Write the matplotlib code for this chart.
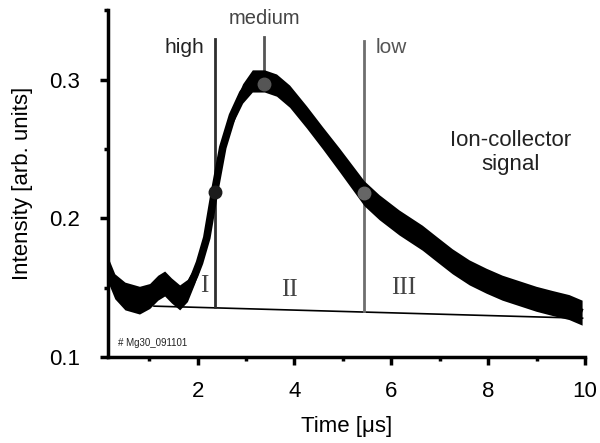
import numpy as np
import matplotlib.pyplot as plt
from matplotlib.ticker import MultipleLocator

# ion-collector trace (time in us, intensity in arb. units)
time = [0.15, 0.29, 0.50, 0.80, 1.01, 1.18, 1.32, 1.46, 1.63, 1.79, 1.94, 2.04,
        2.19, 2.35, 2.52, 2.72, 2.93, 3.13, 3.38, 3.63, 3.90, 4.25, 4.58, 4.93,
        5.44, 5.75, 6.16, 6.64, 6.93, 7.26, 7.61, 7.96, 8.29, 8.64, 8.99, 9.32,
        9.67, 9.94]
intensity = [0.163, 0.151, 0.144, 0.141, 0.144, 0.150, 0.153, 0.148, 0.143, 0.148,
             0.159, 0.168, 0.186, 0.219, 0.251, 0.274, 0.290, 0.299, 0.299, 0.296,
             0.288, 0.273, 0.258, 0.242, 0.218, 0.208, 0.197, 0.186, 0.178, 0.169,
             0.161, 0.155, 0.150, 0.146, 0.142, 0.139, 0.136, 0.132]
# half-width of the noise band
spread = [0.009, 0.009, 0.010, 0.010, 0.009, 0.009, 0.009, 0.009, 0.009, 0.008,
          0.006, 0.005, 0.004, 0.004, 0.005, 0.006, 0.007, 0.008, 0.008, 0.008,
          0.008, 0.008, 0.008, 0.0085, 0.009, 0.009, 0.009, 0.009, 0.009, 0.009,
          0.009, 0.009, 0.009, 0.009, 0.009, 0.009, 0.009, 0.009]

# baseline under the signal
base_t = [1.10, 9.95]
base_y = [0.1367, 0.1280]

# intensity regions: high / medium / low
marker_t = [2.35, 3.38, 5.44]
marker_y = [0.219, 0.297, 0.218]
marker_names = ["high", "medium", "low"]
line_top = [0.3295, 0.331, 0.328]
line_bottom = [0.136, 0.297, 0.133]
region_t = [2.14, 3.90, 6.25]
region_y = [0.151, 0.148, 0.150]
region_names = ["I", "II", "III"]

plt.rcParams['font.family'] = ['Liberation Sans', 'DejaVu Sans']

fig = plt.figure(figsize=(6, 4.43), dpi=100)
ax = fig.add_axes([0.18, 0.194, 0.795, 0.783])

# the trace: thick line plus vertical noise band
ax.fill_between(time, np.subtract(intensity, spread), np.add(intensity, spread),
                color='black', lw=0, zorder=3)
ax.plot(time, intensity, color='black', lw=5.5, zorder=3, solid_capstyle='butt')

ax.plot(base_t, base_y, color='black', lw=1.2, zorder=2)

line_cols = ['#2e2e2e', '#555555', '#6e6e6e']
dot_cols = ['#1c1c1c', '#555555', '#666666']
for i in range(3):
    ax.plot([marker_t[i], marker_t[i]], [line_bottom[i], line_top[i]],
            color=line_cols[i], lw=2, zorder=2)
    ax.plot(marker_t[i], marker_y[i], 'o', color=dot_cols[i], ms=9, zorder=4)

ax.text(2.14, 0.323, "high", fontsize=15, color='#222222', ha='right', va='center')
ax.text(3.38, 0.344, "medium", fontsize=14.5, color='#444444', ha='center', va='center')
ax.text(5.67, 0.323, "low", fontsize=15, color='#555555', ha='left', va='center')
ax.text(8.47, 0.2475, "Ion-collector\nsignal", fontsize=16, color='#222222',
        ha='center', va='center', linespacing=1.15)

for i in range(3):
    ax.text(region_t[i], region_y[i], region_names[i], fontsize=18,
            family='Liberation Serif', color='#444444', ha='center', va='center')

ax.text(0.35, 0.110, "# Mg30_091101", fontsize=7, color='#222222', va='center')

ax.set_xlim(0.15, 10)
ax.set_ylim(0.1, 0.35)
ax.set_xticks([2, 4, 6, 8, 10])
ax.set_yticks([0.1, 0.2, 0.3])
ax.set_yticklabels(["0.1", "0.2", "0.3"])
ax.xaxis.set_minor_locator(MultipleLocator(1))
ax.yaxis.set_minor_locator(MultipleLocator(0.05))
ax.tick_params(which='major', length=6, width=2.5, labelsize=16)
ax.tick_params(axis='y', which='major', pad=14)
ax.tick_params(axis='x', which='major', pad=11)
ax.tick_params(which='minor', length=3, width=2.5)

for s in ['top', 'right']:
    ax.spines[s].set_visible(False)
for s in ['left', 'bottom']:
    ax.spines[s].set_linewidth(2.5)

ax.set_xlabel("Time [μs]", fontsize=16, labelpad=10)
ax.set_ylabel("Intensity [arb. units]", fontsize=16, labelpad=12)

fig.savefig("out.png", dpi=100)
